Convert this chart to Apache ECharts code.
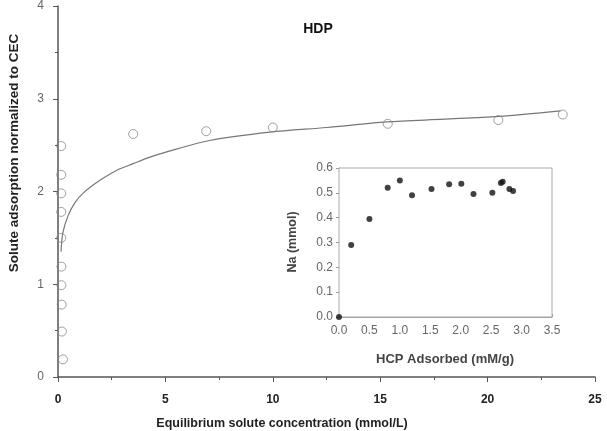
<!DOCTYPE html>
<html>
<head>
<meta charset="utf-8">
<script src="https://cdn.jsdelivr.net/npm/echarts@6/dist/echarts.min.js"></script>
<style>
    html, body { margin: 0; padding: 0; background: #fff; }
    #main { width: 607px; height: 431px; }
</style>
</head>
<body>
<div id="main"></div>
<script>
    // 主图：开口圆点
    var mainX = [0.15, 0.15, 0.15, 0.15, 0.15, 0.16, 0.16, 0.17, 0.18, 0.23, 3.5, 6.9, 10.0, 15.35, 20.5, 23.5];
    var mainY = [2.49, 2.18, 1.98, 1.78, 1.50, 1.19, 0.99, 0.78, 0.49, 0.19, 2.62, 2.65, 2.69, 2.73, 2.77, 2.83];
    // 拟合曲线
    var fitX = [0.14, 0.23, 0.47, 0.79, 1.16, 1.95, 2.74, 3.5, 4.28, 5.1, 7.07, 9.86, 12.5, 15.3, 18.0, 20.5, 23.4];
    var fitY = [1.35, 1.56, 1.74, 1.88, 1.98, 2.12, 2.23, 2.30, 2.37, 2.43, 2.55, 2.64, 2.69, 2.75, 2.78, 2.81, 2.87];
    // 插图：实心点
    var insetX = [0.0, 0.2, 0.5, 0.8, 1.0, 1.2, 1.52, 1.81, 2.01, 2.21, 2.52, 2.66, 2.69, 2.8, 2.86];
    var insetY = [0.0, 0.29, 0.395, 0.52, 0.55, 0.49, 0.515, 0.535, 0.537, 0.495, 0.50, 0.54, 0.545, 0.515, 0.507];

    function zip(a, b) {
        var out = [];
        for (var i = 0; i < a.length; i++) out.push([a[i], b[i]]);
        return out;
    }

    var chart = echarts.init(document.getElementById('main'));
    var axisGray = '#555';
    var option = {
        animation: false,
        backgroundColor: '#fff',
        grid: [
            {left: 58, right: 12, top: 1, bottom: 54},
            {left: 339, right: 55, top: 168, bottom: 114, show: true, borderColor: '#aaa', borderWidth: 1, backgroundColor: '#fff', z: 5}
        ],
        xAxis: [
            {
                gridIndex: 0, type: 'value', min: 0, max: 25, interval: 5,
                axisLine: {lineStyle: {color: axisGray, width: 1.5}},
                axisTick: {show: true, length: 5, lineStyle: {color: axisGray}},
                minorTick: {show: true, splitNumber: 2, length: 3, lineStyle: {color: axisGray}},
                splitLine: {show: false},
                axisLabel: {color: '#222', fontWeight: 'bold', fontSize: 12, fontFamily: 'Liberation Sans', margin: 17}
            },
            {
                gridIndex: 1, type: 'value', min: 0, max: 3.5, interval: 0.5,
                axisLine: {onZero: false, lineStyle: {color: '#999'}},
                axisTick: {show: true, inside: true, length: 3, lineStyle: {color: '#999'}},
                splitLine: {show: false},
                axisLabel: {color: '#666', fontSize: 12, fontFamily: 'Liberation Sans', margin: 8,
                    formatter: function (v) { return v.toFixed(1); }}
            }
        ],
        yAxis: [
            {
                gridIndex: 0, type: 'value', min: 0, max: 4, interval: 1,
                axisLine: {show: true, lineStyle: {color: axisGray, width: 1.5}},
                axisTick: {show: true, length: 5, lineStyle: {color: axisGray}},
                minorTick: {show: true, splitNumber: 2, length: 3, lineStyle: {color: axisGray}},
                splitLine: {show: false},
                axisLabel: {color: '#666', fontSize: 12, fontFamily: 'Liberation Sans', margin: 14}
            },
            {
                gridIndex: 1, type: 'value', min: 0, max: 0.6, interval: 0.1,
                axisLine: {show: true, onZero: false, lineStyle: {color: '#999'}},
                axisTick: {show: true, length: 3, lineStyle: {color: '#999'}},
                splitLine: {show: false},
                axisLabel: {color: '#666', fontSize: 12, fontFamily: 'Liberation Sans', margin: 6,
                    formatter: function (v) { return v.toFixed(1); }}
            }
        ],
        graphic: [
            {type: 'text', x: 318, y: 29, style: {text: 'HDP', font: 'bold 14px "Liberation Sans"', fill: '#111', align: 'center', verticalAlign: 'middle'}},
            {type: 'text', x: 14, y: 153, rotation: Math.PI / 2, style: {text: 'Solute adsorption normalized to CEC', font: 'bold 13.5px "Liberation Sans"', fill: '#222', align: 'center', verticalAlign: 'middle'}},
            {type: 'text', x: 282, y: 424, style: {text: 'Equilibrium solute concentration (mmol/L)', font: 'bold 12.5px "Liberation Sans"', fill: '#222', align: 'center', verticalAlign: 'middle'}},
            {type: 'text', x: 293, y: 242, rotation: Math.PI / 2, style: {text: 'Na (mmol)', font: 'bold 12.5px "Liberation Sans"', fill: '#444', align: 'center', verticalAlign: 'middle'}},
            {type: 'text', x: 445, y: 359, style: {text: 'HCP Adsorbed (mM/g)', font: 'bold 13px "Liberation Sans"', fill: '#444', align: 'center', verticalAlign: 'middle'}}
        ],
        series: [
            {
                type: 'line', xAxisIndex: 0, yAxisIndex: 0,
                data: zip(fitX, fitY), smooth: 0.3, showSymbol: false,
                lineStyle: {color: '#777', width: 1.2}
            },
            {
                type: 'scatter', xAxisIndex: 0, yAxisIndex: 0, clip: false, z: 3,
                data: zip(mainX, mainY), symbol: 'circle', symbolSize: 9,
                itemStyle: {color: 'rgba(255,255,255,0)', borderColor: '#888', borderWidth: 1}
            },
            {
                type: 'scatter', xAxisIndex: 1, yAxisIndex: 1, z: 6, clip: false,
                data: zip(insetX, insetY), symbol: 'circle', symbolSize: 6,
                itemStyle: {color: '#111'}
            }
        ]
    };
    chart.setOption(option);
</script>
</body>
</html>
